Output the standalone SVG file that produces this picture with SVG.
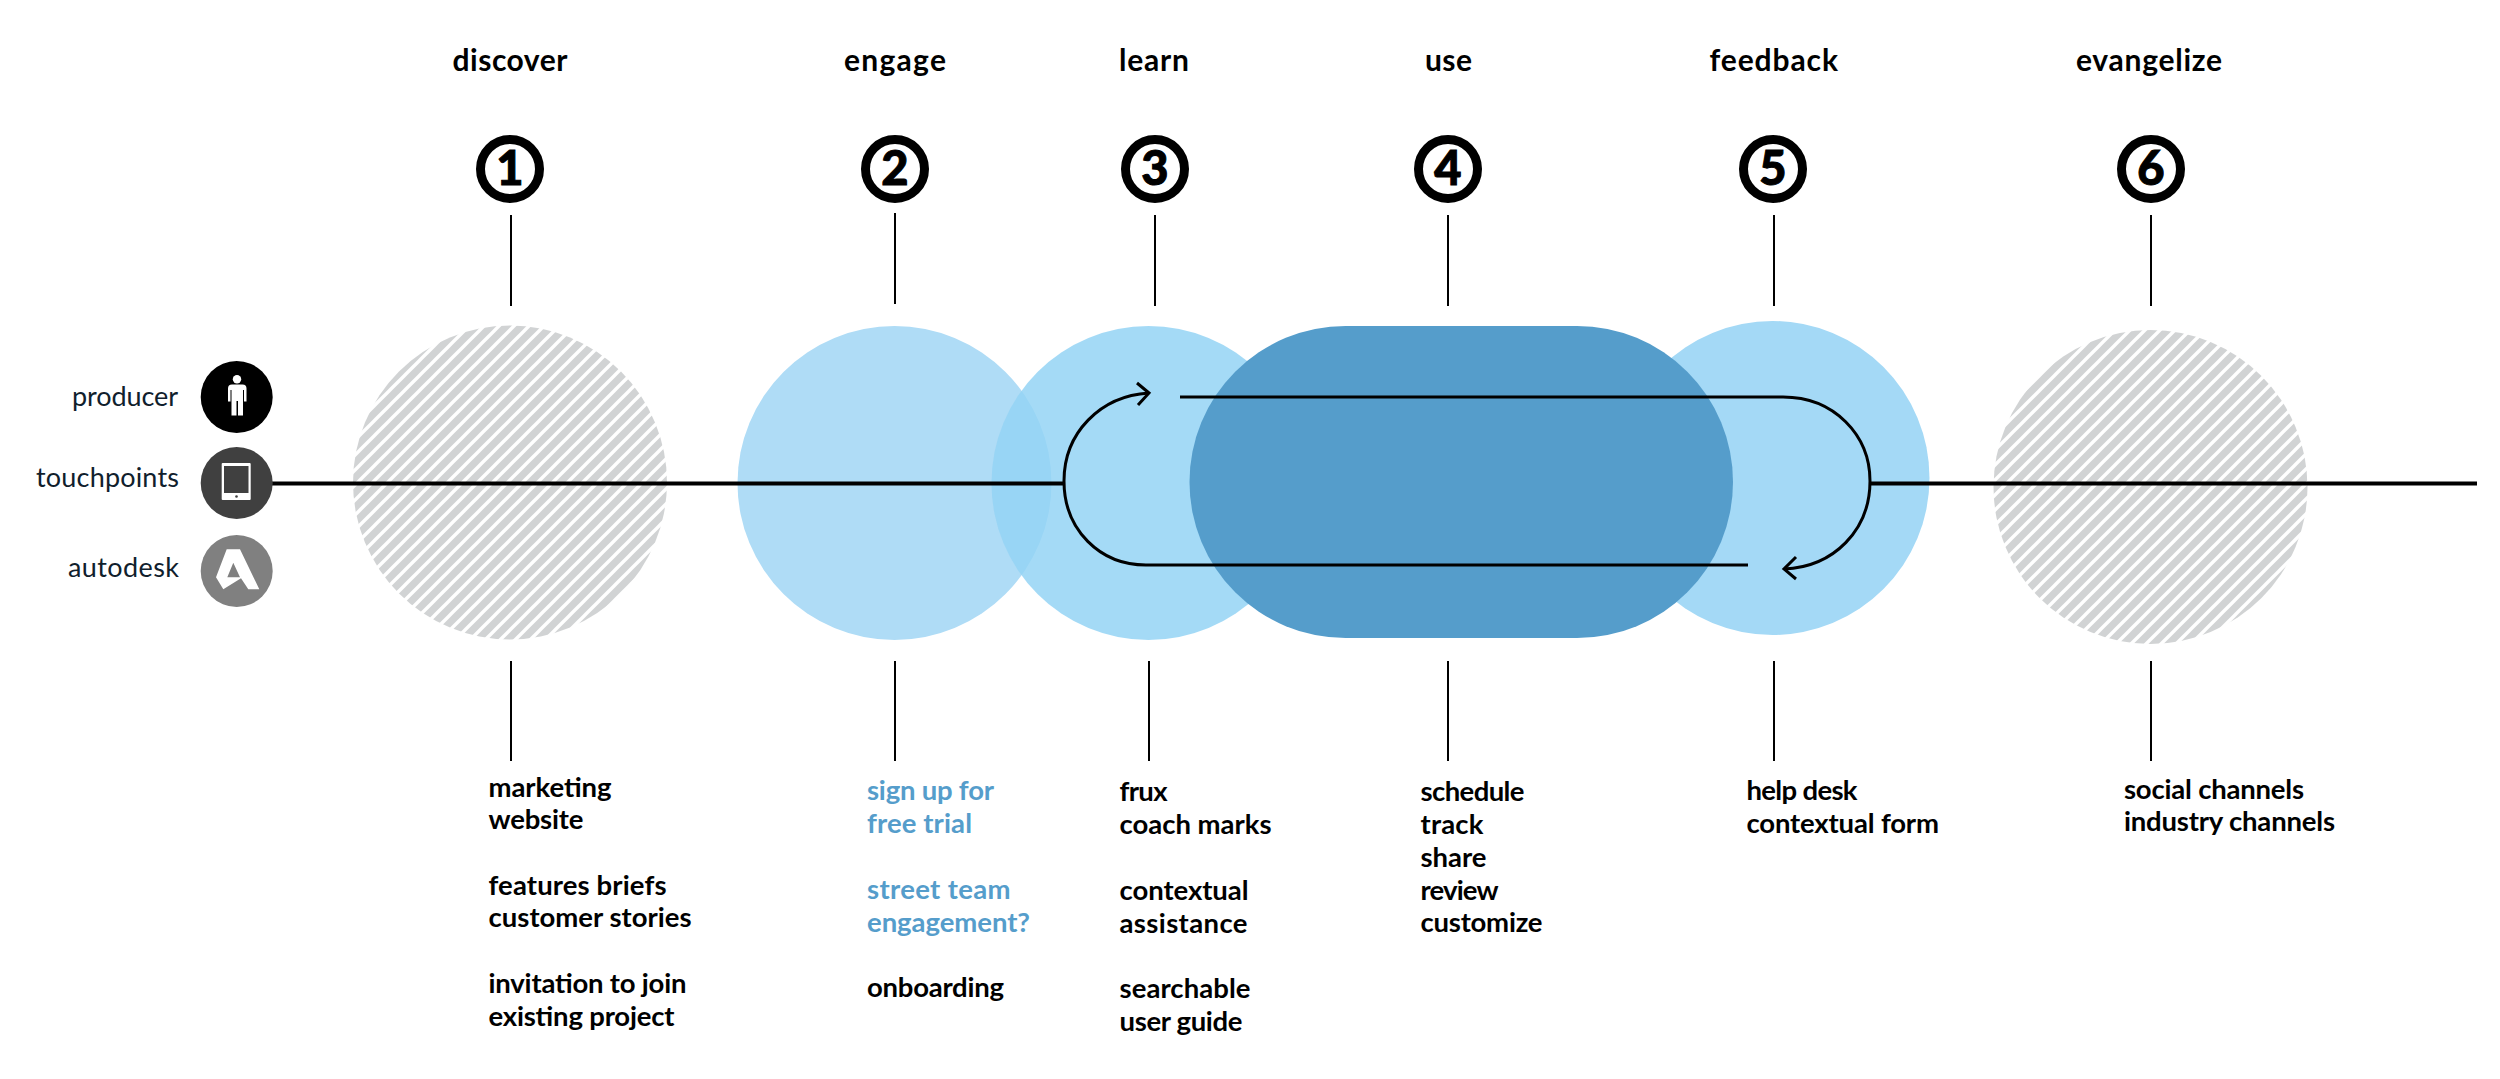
<svg xmlns="http://www.w3.org/2000/svg" width="2500" height="1079" viewBox="0 0 2500 1079">
<style>
text{font-family:"Lato","Liberation Sans",sans-serif;fill:#000}
.h{font-size:30px;font-weight:700}
.t{font-size:27.5px;font-weight:700}
.b{fill:#559dcb}
.l{font-size:27px;font-weight:400;fill:#10202c}
.n{font-size:47px;font-weight:900;text-anchor:middle;stroke:#000;stroke-width:1}
.ring{fill:#fff;stroke:#000;stroke-width:9}
.tick{stroke:#000;stroke-width:2;fill:none}
.main{stroke:#000;stroke-width:4;fill:none}
.loop{stroke:#000;stroke-width:3;fill:none}
</style>
<defs>
<pattern id="hatch" width="15" height="15" patternUnits="userSpaceOnUse">
<rect width="15" height="15" fill="#d1d3d4"/>
<path d="M-2 17L17 -2M-3 3L3 -3M12 18L18 12" stroke="#fff" stroke-width="3.400" fill="none"/>
</pattern>
</defs>
<rect width="2500" height="1079" fill="#fff"/>

<g id="stage-1-shape"><circle cx="510" cy="482.500" r="157" fill="url(#hatch)"/></g>
<g id="stage-2-shape"><circle cx="894.500" cy="483" r="157" fill="#afdcf6"/></g>
<g id="stage-3-shape"><circle cx="1148.500" cy="483" r="157" fill="#94d3f5" fill-opacity=".85"/></g>
<g id="stage-5-shape"><circle cx="1772.500" cy="478" r="157" fill="#a4d9f6"/></g>
<g id="stage-4-shape"><rect x="1189.500" y="326" width="543.500" height="312" rx="156" fill="#559dcb"/></g>
<g id="stage-6-shape"><circle cx="2150.500" cy="487" r="157" fill="url(#hatch)"/></g>

<g id="connectors">
<path class="main" d="M236 483.500H1065"/>
<path class="main" d="M1869 483.500H2477"/>
<path class="loop" d="M1146 565C1100 565 1064 530 1064 481C1064 433 1100 396 1149 393"/>
<path class="loop" d="M1137 383L1149 393L1138 405"/>
<path class="loop" d="M1146 565H1748"/>
<path class="loop" d="M1180 397H1783C1834 397 1870 435 1870 481C1870 530 1834 567 1784 569"/>
<path class="loop" d="M1796 557L1784 569L1796 579"/>
<path class="tick" d="M511 215V306M895 213V304M1155 215V306M1448 215V306M1774 215V306M2151 215V306"/>
<path class="tick" d="M511 661V761M895 661V761M1149 661V761M1448 661V761M1774 661V761M2151 661V761"/>
</g>

<g id="role-producer">
<text class="l" x="72" y="406" textLength="106">producer</text>
<circle cx="236.700" cy="397" r="36" fill="#000"/>
<circle cx="237" cy="379.300" r="4.200" fill="#fff"/>
<path fill="#fff" d="M232 384.500H242.500Q246.500 384.500 246.500 388.500V401.500H244V390H243V415.500H238V401H236.500V415.500H231.500V390H230.500V401.500H228V388.500Q228 384.500 232 384.500Z"/>
</g>
<g id="role-touchpoints">
<text class="l" x="36" y="487" textLength="143">touchpoints</text>
<circle cx="236.700" cy="483" r="36" fill="#404040"/>
<rect x="221.700" y="463" width="29" height="37" rx="1" fill="#fff"/>
<rect x="224" y="466" width="24.500" height="27" fill="#404040"/>
<circle cx="236.500" cy="496.500" r="1.300" fill="#404040"/>
</g>
<g id="role-autodesk">
<text class="l" x="68" y="577" textLength="111">autodesk</text>
<circle cx="236.700" cy="571" r="36" fill="#808080"/>
<path fill="#fff" fill-rule="evenodd" d="M226.700 549.300H240L259.300 589.300H248.300L241 578.300L223.300 589.300L216 577.300ZM233.300 562.700L227.300 577.300H240Z"/>
</g>

<g id="stage-1">
<text class="h" x="452.500" y="71" textLength="115">discover</text>
<circle class="ring" cx="510" cy="169" r="29.500"/>
<text class="n" x="510" y="185">1</text>
<text class="t" x="488.500" y="796.500" textLength="123">marketing</text>
<text class="t" x="488.500" y="829" textLength="95">website</text>
<text class="t" x="488.500" y="894.500" textLength="178">features briefs</text>
<text class="t" x="488.500" y="927" textLength="203">customer stories</text>
<text class="t" x="488.500" y="993" textLength="198">invitation to join</text>
<text class="t" x="488.500" y="1025.500" textLength="186">existing project</text>
</g>
<g id="stage-2">
<text class="h" x="844" y="71" textLength="102">engage</text>
<circle class="ring" cx="895" cy="169" r="29.500"/>
<text class="n" x="895" y="185">2</text>
<text class="t b" x="867" y="800" textLength="127">sign up for</text>
<text class="t b" x="867" y="833" textLength="105">free trial</text>
<text class="t b" x="867" y="899" textLength="143.500">street team</text>
<text class="t b" x="867" y="931.500" textLength="163">engagement?</text>
<text class="t" x="867" y="997" textLength="137">onboarding</text>
</g>
<g id="stage-3">
<text class="h" x="1119" y="71" textLength="70">learn</text>
<circle class="ring" cx="1155" cy="169" r="29.500"/>
<text class="n" x="1155" y="185">3</text>
<text class="t" x="1119.500" y="801" textLength="48">frux</text>
<text class="t" x="1119.500" y="834" textLength="152">coach marks</text>
<text class="t" x="1119.500" y="900" textLength="129">contextual</text>
<text class="t" x="1119.500" y="933" textLength="128">assistance</text>
<text class="t" x="1119.500" y="998" textLength="131">searchable</text>
<text class="t" x="1119.500" y="1030.500" textLength="123">user guide</text>
</g>
<g id="stage-4">
<text class="h" x="1425" y="71" textLength="47">use</text>
<circle class="ring" cx="1448" cy="169" r="29.500"/>
<text class="n" x="1448" y="185">4</text>
<text class="t" x="1420.500" y="801" textLength="104">schedule</text>
<text class="t" x="1420.500" y="833.500" textLength="63">track</text>
<text class="t" x="1420.500" y="867" textLength="66">share</text>
<text class="t" x="1420.500" y="899.500" textLength="78">review</text>
<text class="t" x="1420.500" y="932" textLength="122">customize</text>
</g>
<g id="stage-5">
<text class="h" x="1709.500" y="71" textLength="128.500">feedback</text>
<circle class="ring" cx="1773" cy="169" r="29.500"/>
<text class="n" x="1773" y="185">5</text>
<text class="t" x="1746.500" y="799.500" textLength="111">help desk</text>
<text class="t" x="1746.500" y="832.500" textLength="192.500">contextual form</text>
</g>
<g id="stage-6">
<text class="h" x="2076" y="71" textLength="146">evangelize</text>
<circle class="ring" cx="2151" cy="169" r="29.500"/>
<text class="n" x="2151" y="185">6</text>
<text class="t" x="2124" y="798.500" textLength="180">social channels</text>
<text class="t" x="2124" y="831" textLength="211">industry channels</text>
</g>
</svg>
